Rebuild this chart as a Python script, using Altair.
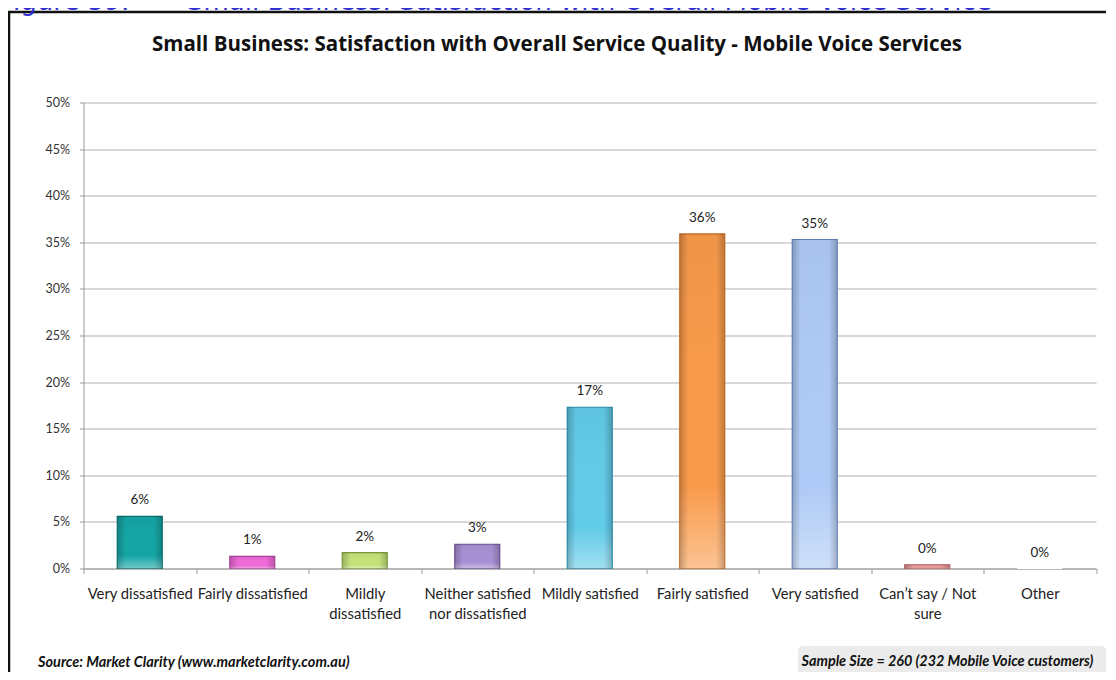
import altair as alt
import pandas as pd

categories = ["Very dissatisfied", "Fairly dissatisfied", "Mildly dissatisfied",
              "Neither satisfied nor dissatisfied", "Mildly satisfied", "Fairly satisfied",
              "Very satisfied", "Can’t say / Not sure", "Other"]
values = [5.6, 1.3, 1.7, 2.6, 17.3, 35.9, 35.3, 0.4, 0.0]
fills = ["#14a5a5", "#ee6ad8", "#c4e27a", "#a890d4", "#62cbe8", "#f99a4a", "#aecaf6", "#e89a9a", "#ffffff"]
strokes = ["#0a6e6e", "#b0409a", "#7a9a3a", "#6a5090", "#2a8aa8", "#c06a20", "#6080b8", "#b06060", "#ffffff"]
y_ticks = [0, 5, 10, 15, 20, 25, 30, 35, 40, 45, 50]

title_text = "Small Business: Satisfaction with Overall Service Quality - Mobile Voice Services"
figure_label = "Figure 59:"
figure_text = "Small Business: Satisfaction with Overall Mobile Voice Service"
source_text = "Source: Market Clarity (www.marketclarity.com.au)"
sample_text = "Sample Size = 260 (232 Mobile Voice customers)"

df = pd.DataFrame({
    "cat": categories,
    "val": values,
    "lbl": [f"{round(v):.0f}%" for v in values],
})

FONT = "Lato"
W, H = 1012.5, 466

label_expr = (
    "datum.label == 'Mildly dissatisfied' ? ['Mildly', 'dissatisfied'] : "
    "datum.label == 'Neither satisfied nor dissatisfied' ? ['Neither satisfied', 'nor dissatisfied'] : "
    "datum.label == 'Can’t say / Not sure' ? ['Can’t say / Not', 'sure'] : datum.label"
)

x = alt.X("cat:N", sort=categories, title=None,
          scale=alt.Scale(paddingInner=0, paddingOuter=0),
          axis=alt.Axis(labelAngle=0, labelExpr=label_expr, labelFont=FONT, labelFontSize=14.8,
                        labelColor="#222222", labelLineHeight=19.5, labelPadding=13,
                        tickBand="extent", tickSize=5, tickColor="#999999",
                        domainColor="#999999", labelBaseline="top"))
y = alt.Y("val:Q", title=None,
          scale=alt.Scale(domain=[0, 50], nice=False),
          axis=alt.Axis(values=y_ticks, labelExpr="datum.value + '%'", labelFont=FONT,
                        labelFontSize=12.5, labelColor="#333333", tickSize=4, labelPadding=10,
                        tickColor="#999999", domainColor="#999999", gridColor="#b0b0b0",
                        grid=True))

bars = alt.Chart(df).mark_bar(width=45, strokeWidth=1.2).encode(
    x=x, y=y,
    fill=alt.Fill("cat:N", scale=alt.Scale(domain=categories, range=fills), legend=None),
    stroke=alt.Stroke("cat:N", scale=alt.Scale(domain=categories, range=strokes), legend=None),
)

shade_v = alt.Gradient(gradient="linear", x1=0, x2=0, y1=0, y2=1, stops=[
    alt.GradientStop(offset=0, color="rgba(0,0,0,0.04)"),
    alt.GradientStop(offset=0.75, color="rgba(255,255,255,0)"),
    alt.GradientStop(offset=1, color="rgba(255,255,255,0.40)"),
])
shade_h = alt.Gradient(gradient="linear", x1=0, x2=1, y1=0, y2=0, stops=[
    alt.GradientStop(offset=0, color="rgba(0,0,0,0.20)"),
    alt.GradientStop(offset=0.18, color="rgba(0,0,0,0)"),
    alt.GradientStop(offset=0.82, color="rgba(0,0,0,0)"),
    alt.GradientStop(offset=1, color="rgba(0,0,0,0.20)"),
])
df_shade = df[df["val"] > 0]
gloss_v = alt.Chart(df_shade).mark_bar(width=44, fill=shade_v, strokeWidth=0).encode(
    x=alt.X("cat:N", sort=categories), y="val:Q")
gloss_h = alt.Chart(df_shade).mark_bar(width=44, fill=shade_h, strokeWidth=0).encode(
    x=alt.X("cat:N", sort=categories), y="val:Q")

labels = alt.Chart(df).mark_text(dy=-9, baseline="bottom", font=FONT, fontSize=13.5,
                                 color="#222222").encode(
    x=alt.X("cat:N", sort=categories), y="val:Q", text="lbl:N")

deco = pd.DataFrame({"t": [0]})
frame = alt.Chart(deco).mark_rect(fill=None, stroke="#111111", strokeWidth=2.5).encode(
    x=alt.value(-74.5), x2=alt.value(1100), y=alt.value(-90.5), y2=alt.value(600))

title = alt.Chart(deco).mark_text(text=title_text, font="Open Sans", fontSize=20.5, fontWeight="bold",
                                  color="#111111", align="center", baseline="alphabetic").encode(
    x=alt.value(473.5), y=alt.value(-51.5))

fig1 = alt.Chart(deco).mark_text(text=figure_label, font="DejaVu Sans", fontSize=26,
                                 color="#3030d0", align="left", baseline="alphabetic").encode(
    x=alt.value(-83.5), y=alt.value(-93))
fig2 = alt.Chart(deco).mark_text(text=figure_text, font="DejaVu Sans", fontSize=26,
                                 color="#3030d0", align="left", baseline="alphabetic").encode(
    x=alt.value(103.5), y=alt.value(-93))

source = alt.Chart(deco).mark_text(text=source_text, font=FONT, fontSize=14.5, fontWeight="bold",
                                   fontStyle="italic", color="#111111", align="left",
                                   baseline="middle").encode(
    x=alt.value(-45.5), y=alt.value(560.5))

box = alt.Chart(deco).mark_rect(fill="#ebebeb", cornerRadius=5).encode(
    x=alt.value(714.5), x2=alt.value(1023), y=alt.value(543.5), y2=alt.value(575))

sample = alt.Chart(deco).mark_text(text=sample_text, font=FONT, fontSize=14.4, fontWeight="bold",
                                   fontStyle="italic", color="#111111", align="center",
                                   baseline="middle").encode(
    x=alt.value(864), y=alt.value(559.5))

chart = alt.layer(frame, fig1, fig2, title, bars, gloss_v, gloss_h, labels, box, sample, source).properties(
    width=W, height=H,
    autosize=alt.AutoSizeParams(type="none"),
    padding={"left": 75.5, "top": 94.5, "right": 10, "bottom": 103.5},
    background="white",
).configure_view(stroke=None)

chart.save("out.html", embed_options={"renderer": "svg", "actions": False})
